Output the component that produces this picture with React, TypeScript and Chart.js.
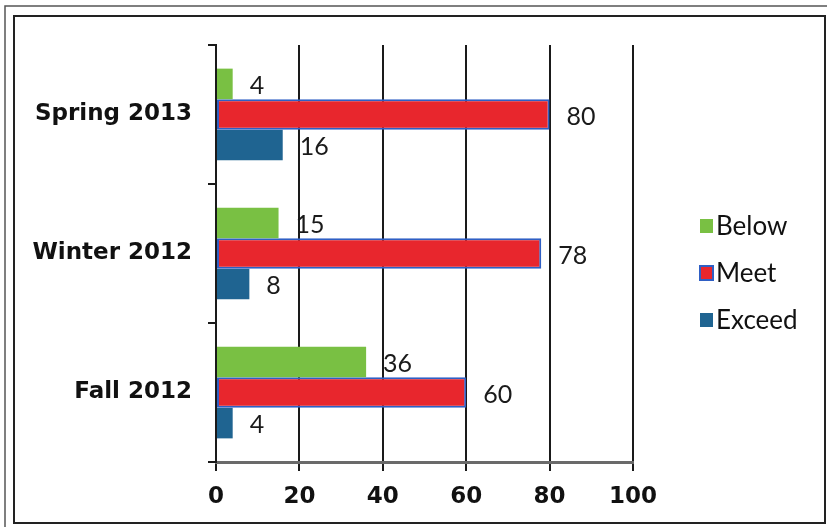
import React, { useEffect, useRef } from "react";
import { Chart, registerables } from "chart.js";

Chart.register(...registerables);

const categories = ["Spring 2013", "Winter 2012", "Fall 2012"];
const seriesNames = ["Below", "Meet", "Exceed"];
const below = [4, 15, 36];
const meet = [80, 78, 60];
const exceed = [16, 8, 4];
const xTicks = [0, 20, 40, 60, 80, 100];

const colors = ["#79c043", "#e8262d", "#1f6491"];
const borders = ["#79c043", "#2f5fc4", "#1f6491"];

const W = 827;
const H = 527;
const LABEL_FONT = "Lato, 'Open Sans', sans-serif";
const AXIS_FONT = "'DejaVu Sans', sans-serif";

const framePlugin = {
  id: "frame",
  beforeDraw(chart: any) {
    const ctx = chart.ctx;
    ctx.save();
    ctx.fillStyle = "#ffffff";
    ctx.fillRect(0, 0, W, H);
    ctx.strokeStyle = "#555555";
    ctx.lineWidth = 1.5;
    ctx.strokeRect(5, 6, W - 3, H - 2);
    ctx.strokeStyle = "#222222";
    ctx.lineWidth = 2;
    ctx.strokeRect(14, 16, 811, 507);
    ctx.restore();
  },
};

const labelsPlugin = {
  id: "barLabels",
  afterDatasetsDraw(chart: any) {
    const ctx = chart.ctx;
    ctx.save();
    ctx.font = `25px ${LABEL_FONT}`;
    ctx.fillStyle = "#1a1a1a";
    ctx.textAlign = "left";
    ctx.textBaseline = "middle";
    chart.data.datasets.forEach((ds: any, di: number) => {
      const meta = chart.getDatasetMeta(di);
      meta.data.forEach((bar: any, i: number) => {
        ctx.fillText(String(ds.data[i]), bar.x + 17, bar.y + 2);
      });
    });
    ctx.restore();
  },
};

const legendPlugin = {
  id: "customLegend",
  afterDraw(chart: any) {
    const ctx = chart.ctx;
    ctx.save();
    ctx.font = `26px ${LABEL_FONT}`;
    ctx.textBaseline = "middle";
    ctx.textAlign = "left";
    const ys = [226, 273, 320];
    seriesNames.forEach((name, i) => {
      const y = ys[i];
      ctx.fillStyle = colors[i];
      ctx.fillRect(700, y - 7, 13, 14);
      if (i === 1) {
        ctx.strokeStyle = borders[1];
        ctx.lineWidth = 2;
        ctx.strokeRect(700, y - 7, 13, 14);
      }
      ctx.fillStyle = "#111111";
      ctx.fillText(name, 716, y + 1);
    });
    ctx.restore();
  },
};

export default function App() {
  const ref = useRef<HTMLCanvasElement | null>(null);
  useEffect(() => {
    if (!ref.current) return;
    const data = [below, meet, exceed];
    const chart = new Chart(ref.current, {
      type: "bar",
      data: {
        labels: categories,
        datasets: seriesNames.map((name, i) => ({
          label: name,
          data: data[i],
          backgroundColor: colors[i],
          borderColor: borders[i],
          borderWidth: i === 1 ? 2 : 0,
          borderSkipped: false,
          barPercentage: 1,
          categoryPercentage: 0.66,
        })),
      },
      options: {
        indexAxis: "y",
        responsive: false,
        animation: false,
        devicePixelRatio: 1,
        layout: { padding: { left: 0, right: W - 633, top: 45, bottom: 0 } },
        plugins: { legend: { display: false }, tooltip: { enabled: false } },
        scales: {
          x: {
            position: "bottom",
            min: 0,
            max: 100,
            afterBuildTicks: (scale: any) => {
              scale.ticks = xTicks.map((v) => ({ value: v }));
            },
            afterFit: (scale: any) => {
              scale.height = H - 462;
            },
            grid: {
              color: "#1a1a1a",
              lineWidth: 2,
              drawTicks: true,
              tickLength: 9,
              tickColor: "#1a1a1a",
            },
            border: { display: true, color: "#6a6a6a", width: 3 },
            ticks: {
              color: "#111111",
              font: { family: AXIS_FONT, size: 23, weight: "bold" },
              padding: 12,
              maxRotation: 0,
            },
          },
          y: {
            position: "left",
            afterFit: (scale: any) => {
              scale.width = 216;
            },
            grid: {
              offset: true,
              drawOnChartArea: false,
              drawTicks: true,
              tickLength: 8,
              color: "#1a1a1a",
              lineWidth: 2,
            },
            border: { display: true, color: "#1a1a1a", width: 2 },
            ticks: {
              color: "#111111",
              font: { family: AXIS_FONT, size: 23, weight: "bold" },
              padding: 16,
            },
          },
        },
      },
      plugins: [framePlugin, labelsPlugin, legendPlugin],
    } as any);
    return () => chart.destroy();
  }, []);
  return (
    <div style={{ position: "fixed", left: 0, top: 0, width: W, height: H }}>
      <canvas ref={ref} width={W} height={H} style={{ width: W, height: H, display: "block" }} />
    </div>
  );
}
